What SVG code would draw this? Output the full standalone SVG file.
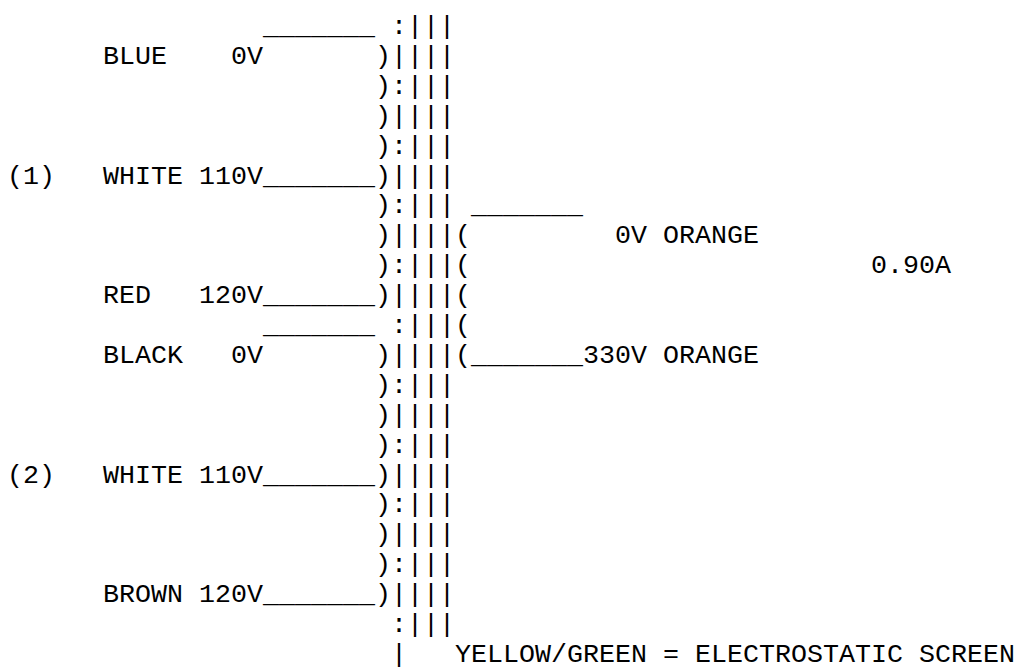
<svg xmlns="http://www.w3.org/2000/svg" width="1020" height="669" viewBox="0 0 1020 669">
<style>
text{font-family:"Liberation Mono","Courier New",monospace;font-size:26.667px;fill:#000;white-space:pre}
</style>
<rect width="1020" height="669" fill="#fff"/>
<g id="primary" xml:space="preserve">
<text x="263" y="34">_______</text>
<text x="103" y="63.9">BLUE</text><text x="231" y="63.9">0V</text>
<text x="7" y="183.5">(1)</text><text x="103" y="183.5">WHITE 110V_______</text>
<text x="103" y="303.1">RED</text><text x="199" y="303.1">120V_______</text>
<text x="263" y="333">_______</text>
<text x="103" y="362.9">BLACK</text><text x="231" y="362.9">0V</text>
<text x="7" y="482.5">(2)</text><text x="103" y="482.5">WHITE 110V_______</text>
<text x="103" y="602.1">BROWN 120V_______</text>
</g>
<g id="core" xml:space="preserve">
<text x="391" y="34">:|||</text>
<text x="375" y="63.9">)||||</text>
<text x="375" y="93.8">):|||</text>
<text x="375" y="123.7">)||||</text>
<text x="375" y="153.6">):|||</text>
<text x="375" y="183.5">)||||</text>
<text x="375" y="213.4">):|||</text>
<text x="375" y="243.3">)||||</text>
<text x="375" y="273.2">):|||</text>
<text x="375" y="303.1">)||||</text>
<text x="391" y="333">:|||</text>
<text x="375" y="362.9">)||||</text>
<text x="375" y="392.8">):|||</text>
<text x="375" y="422.7">)||||</text>
<text x="375" y="452.6">):|||</text>
<text x="375" y="482.5">)||||</text>
<text x="375" y="512.4">):|||</text>
<text x="375" y="542.3">)||||</text>
<text x="375" y="572.2">):|||</text>
<text x="375" y="602.1">)||||</text>
<text x="391" y="632">:|||</text>
<text x="391" y="661.9">|</text>
</g>
<g id="secondary" xml:space="preserve">
<text x="471" y="213.4">_______</text>
<text x="455" y="243.3">(</text><text x="615" y="243.3">0V ORANGE</text>
<text x="455" y="273.2">(</text><text x="871" y="273.2">0.90A</text>
<text x="455" y="303.1">(</text>
<text x="455" y="333">(</text>
<text x="455" y="362.9">(_______330V ORANGE</text>
</g>
<g id="note" xml:space="preserve">
<text x="455" y="661.9">YELLOW/GREEN = ELECTROSTATIC SCREEN</text>
</g>
</svg>
